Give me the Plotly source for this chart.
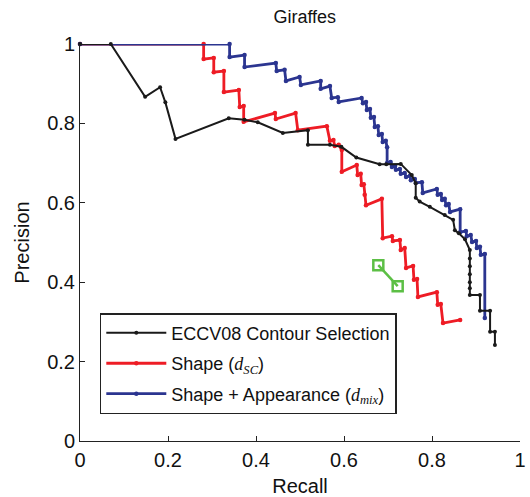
import plotly.graph_objects as go

# ---- data ----
eccv_recall = [0.0, 0.07, 0.148, 0.182, 0.194, 0.217, 0.338, 0.374, 0.404, 0.461, 0.518, 0.518,
               0.568, 0.594, 0.628, 0.681, 0.696, 0.729, 0.754, 0.763, 0.763, 0.772, 0.795,
               0.829, 0.848, 0.852, 0.861, 0.875, 0.886, 0.886, 0.886, 0.886, 0.886, 0.886,
               0.886, 0.909, 0.909, 0.932, 0.932, 0.943, 0.943]
eccv_precision = [1.0, 1.0, 0.867, 0.891, 0.853, 0.761, 0.813, 0.809, 0.803, 0.776, 0.783, 0.746,
                  0.746, 0.741, 0.714, 0.697, 0.697, 0.698, 0.670, 0.649, 0.613, 0.603, 0.590,
                  0.569, 0.557, 0.531, 0.523, 0.508, 0.481, 0.46, 0.44, 0.42, 0.40, 0.385,
                  0.368, 0.368, 0.328, 0.328, 0.275, 0.275, 0.242]

shape_recall = [0.0, 0.281, 0.281, 0.304, 0.304, 0.327, 0.327, 0.361, 0.363, 0.372, 0.372,
                0.443, 0.445, 0.490, 0.495, 0.561, 0.568, 0.576, 0.579, 0.588, 0.595, 0.595,
                0.629, 0.631, 0.638, 0.640, 0.645, 0.647, 0.650, 0.686, 0.688, 0.709, 0.711,
                0.727, 0.729, 0.738, 0.741, 0.757, 0.759, 0.766, 0.768, 0.811, 0.813, 0.820,
                0.825, 0.864]
shape_precision = [1.0, 1.0, 0.962, 0.965, 0.929, 0.932, 0.879, 0.884, 0.841, 0.844, 0.804,
                   0.826, 0.811, 0.826, 0.783, 0.793, 0.756, 0.758, 0.743, 0.746, 0.733, 0.678,
                   0.695, 0.670, 0.673, 0.645, 0.647, 0.620, 0.594, 0.610, 0.511, 0.516, 0.504,
                   0.506, 0.481, 0.486, 0.436, 0.441, 0.406, 0.408, 0.363, 0.375, 0.343, 0.345,
                   0.297, 0.305]

mix_recall = [0.0, 0.340, 0.340, 0.374, 0.374, 0.445, 0.447, 0.465, 0.468, 0.499, 0.502, 0.547,
              0.547, 0.568, 0.572, 0.586, 0.588, 0.640, 0.643, 0.650, 0.652, 0.659, 0.661,
              0.668, 0.670, 0.677, 0.679, 0.686, 0.688, 0.695, 0.698, 0.698, 0.706, 0.709,
              0.716, 0.718, 0.727, 0.729, 0.738, 0.741, 0.750, 0.752, 0.761, 0.763, 0.777,
              0.779, 0.811, 0.813, 0.820, 0.823, 0.829, 0.832, 0.838, 0.841, 0.864, 0.864,
              0.877, 0.879, 0.888, 0.891, 0.900, 0.902, 0.909, 0.911, 0.920, 0.920]
mix_precision = [1.0, 1.0, 0.967, 0.972, 0.942, 0.952, 0.932, 0.935, 0.907, 0.917, 0.897, 0.907,
                 0.887, 0.894, 0.864, 0.866, 0.854, 0.864, 0.851, 0.854, 0.834, 0.836, 0.814,
                 0.816, 0.791, 0.793, 0.771, 0.773, 0.753, 0.756, 0.740, 0.700, 0.703, 0.690,
                 0.693, 0.683, 0.685, 0.673, 0.675, 0.665, 0.668, 0.657, 0.660, 0.650, 0.652,
                 0.625, 0.635, 0.620, 0.622, 0.607, 0.610, 0.594, 0.597, 0.577, 0.584, 0.526,
                 0.529, 0.516, 0.519, 0.501, 0.504, 0.486, 0.489, 0.469, 0.471, 0.310]

green_recall = [0.678, 0.722]
green_precision = [0.443, 0.390]

tick_vals = [0, 0.2, 0.4, 0.6, 0.8, 1]
tick_text = ["0", "0.2", "0.4", "0.6", "0.8", "1"]

FONT = "Liberation Sans, Arial, sans-serif"

fig = go.Figure()

fig.add_trace(go.Scatter(
    x=green_recall, y=green_precision, mode="lines+markers", showlegend=False,
    line=dict(color="#5cbf45", width=2.5),
    marker=dict(symbol="square-open", size=10, color="#5cbf45", line=dict(width=2.5, color="#5cbf45")),
    cliponaxis=False))

fig.add_trace(go.Scatter(
    x=shape_recall, y=shape_precision, mode="lines+markers",
    name='Shape (<span style="font-family:Liberation Serif"><i>d</i><sub><i>SC</i></sub></span>)',
    legendgroup="b", legendrank=2,
    line=dict(color="#ee1c25", width=2.8), marker=dict(size=4.5, color="#ee1c25"),
    cliponaxis=False))

fig.add_trace(go.Scatter(
    x=mix_recall, y=mix_precision, mode="lines+markers",
    name='Shape + Appearance (<span style="font-family:Liberation Serif"><i>d</i><sub><i>mix</i></sub></span>)',
    legendgroup="c", legendrank=3,
    line=dict(color="#2b3590", width=2.8), marker=dict(size=4.5, color="#2b3590"),
    cliponaxis=False))

fig.add_trace(go.Scatter(
    x=eccv_recall, y=eccv_precision, mode="lines+markers",
    name="ECCV08 Contour Selection", legendgroup="a", legendrank=1,
    line=dict(color="#1a1a1a", width=2), marker=dict(size=4, color="#1a1a1a"),
    cliponaxis=False))

axis_common = dict(
    range=[0, 1], showgrid=False, zeroline=False, showline=True, linecolor="#222",
    linewidth=1, ticks="inside", ticklen=5, tickcolor="#222", automargin=False,
    tickvals=tick_vals, ticktext=tick_text,
    tickfont=dict(family=FONT, size=20, color="#111"),
    title_font=dict(family=FONT, size=20, color="#111"), mirror=False)

fig.update_xaxes(**axis_common, title_text="Recall", title_standoff=8, ticklabelstandoff=1)
fig.update_yaxes(**axis_common, title_text="Precision", title_standoff=12)

fig.update_layout(
    width=530, height=497,
    margin=dict(l=80, r=10, t=44, b=56),
    paper_bgcolor="white", plot_bgcolor="white",
    title=dict(text="Giraffes", x=0.575, xanchor="center", y=0.966, yanchor="middle",
               font=dict(family=FONT, size=18, color="#111")),
    legend=dict(x=0.045, y=0.322, xanchor="left", yanchor="top",
                bgcolor="white", bordercolor="#222", borderwidth=1.5,
                font=dict(family=FONT, size=18, color="#111"),
                tracegroupgap=4, traceorder="grouped", itemwidth=60),
    showlegend=True,
)

fig.write_html("out.html")
